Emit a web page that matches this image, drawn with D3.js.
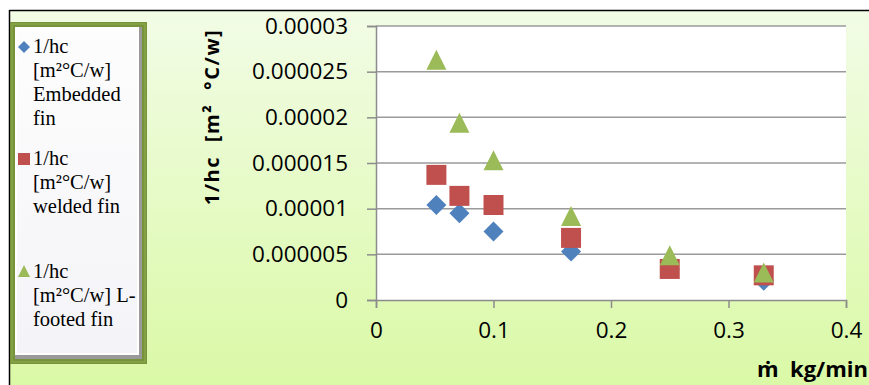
<!DOCTYPE html>
<html>
<head>
<meta charset="utf-8">
<script src="https://cdn.jsdelivr.net/npm/d3@7"></script>
<style>
  html, body { margin: 0; padding: 0; background: #ffffff; }
  svg { display: block; }
</style>
</head>
<body>
<svg id="chart" width="869" height="385"></svg>
<script>
// Mass flow rate (kg/min)
const flowRates = [0.0514, 0.0710, 0.1000, 0.1660, 0.2500, 0.3300];
// 1/hc [m²°C/W] for each fin type
const embeddedFin = [10.4e-6, 9.5e-6, 7.5e-6, 5.3e-6, 3.4e-6, 2.1e-6];
const weldedFin   = [13.7e-6, 11.4e-6, 10.4e-6, 6.8e-6, 3.4e-6, 2.7e-6];
const lFootedFin  = [26.3e-6, 19.4e-6, 15.3e-6, 9.2e-6, 4.9e-6, 3.0e-6];

const xTicks = [0, 0.1, 0.2, 0.3, 0.4];
const yTicks = [0, 0.000005, 0.00001, 0.000015, 0.00002, 0.000025, 0.00003];
const yTickLabels = ["0", "0.000005", "0.00001", "0.000015", "0.00002", "0.000025", "0.00003"];

const seriesNames = [
  ["1/hc", "[m²°C/w]", "Embedded", "fin"],
  ["1/hc", "[m²°C/w]", "welded fin"],
  ["1/hc", "[m²°C/w] L-", "footed fin"]
];

const svg = d3.select("#chart");
const defs = svg.append("defs");

// Chart-area background: pale lime gradient
const bg = defs.append("linearGradient").attr("id", "bgGrad")
  .attr("x1", 0).attr("y1", 0).attr("x2", 0).attr("y2", 1);
bg.append("stop").attr("offset", "0%").attr("stop-color", "#f2fce6");
bg.append("stop").attr("offset", "100%").attr("stop-color", "#daf9a6");

// Legend inner panel gradient
const lg = defs.append("linearGradient").attr("id", "legGrad")
  .attr("x1", 0).attr("y1", 0).attr("x2", 0).attr("y2", 1);
lg.append("stop").attr("offset", "0%").attr("stop-color", "#fdfdfd");
lg.append("stop").attr("offset", "100%").attr("stop-color", "#f4f4f8");

svg.append("rect").attr("x", 10).attr("y", 11).attr("width", 859).attr("height", 374)
  .attr("fill", "url(#bgGrad)");
svg.append("line").attr("x1", 9.5).attr("x2", 869).attr("y1", 10.5).attr("y2", 10.5)
  .attr("stroke", "#000").attr("stroke-width", 1.5);
svg.append("line").attr("x1", 9.5).attr("x2", 9.5).attr("y1", 10).attr("y2", 385)
  .attr("stroke", "#000").attr("stroke-width", 1.5);

// Plot area
const plot = { left: 376, right: 846, top: 26, bottom: 300 };
const x = d3.scaleLinear().domain([0, 0.4]).range([plot.left, plot.right]);
const y = d3.scaleLinear().domain([0, 0.00003]).range([plot.bottom, plot.top]);

svg.append("rect").attr("x", plot.left).attr("y", plot.top)
  .attr("width", plot.right - plot.left).attr("height", plot.bottom - plot.top)
  .attr("fill", "#ffffff");

// Horizontal gridlines
svg.append("g").selectAll("line").data(yTicks.slice(1)).join("line")
  .attr("x1", plot.left).attr("x2", plot.right)
  .attr("y1", d => y(d)).attr("y2", d => y(d))
  .attr("stroke", "#9a9a9a").attr("stroke-width", 1.5);

const tickFont = "'Open Sans', sans-serif";

// Y axis
const yAxis = svg.append("g").attr("transform", `translate(${plot.left},0)`)
  .call(d3.axisLeft(y).tickValues(yTicks).tickSize(9).tickPadding(19)
    .tickFormat((d, i) => yTickLabels[i]));
yAxis.select(".domain").attr("stroke", "#8c8c8c").attr("stroke-width", 1.5);
yAxis.selectAll(".tick line").attr("stroke", "#8c8c8c").attr("stroke-width", 1.5);
yAxis.selectAll(".tick text").attr("font-family", tickFont).attr("font-size", 22.5)
  .attr("fill", "#000");

// X axis
const xAxis = svg.append("g").attr("transform", `translate(0,${plot.bottom})`)
  .call(d3.axisBottom(x).tickValues(xTicks).tickSize(8).tickPadding(14)
    .tickFormat(d3.format("")));
xAxis.select(".domain").attr("stroke", "#8c8c8c").attr("stroke-width", 1.5);
xAxis.selectAll(".tick line").attr("stroke", "#8c8c8c").attr("stroke-width", 1.5);
xAxis.selectAll(".tick text").attr("font-family", tickFont).attr("font-size", 22.5)
  .attr("fill", "#000");

// Axis titles
svg.append("text")
  .attr("transform", `translate(219,117) rotate(-90)`)
  .attr("text-anchor", "middle")
  .attr("font-family", tickFont).attr("font-weight", "bold").attr("font-size", 20)
  .attr("letter-spacing", 1.6)
  .attr("fill", "#000").style("white-space", "pre")
  .text("1/hc  [m²  °C/w]");
svg.append("text")
  .attr("x", 757).attr("y", 377)
  .attr("font-family", tickFont).attr("font-weight", "bold").attr("font-size", 22)
  .attr("fill", "#000").style("white-space", "pre")
  .text("ṁ  kg/min");

// Markers
const series = [
  { values: embeddedFin, color: "#4f81bd", shape: "diamond" },
  { values: weldedFin, color: "#c0504d", shape: "square" },
  { values: lFootedFin, color: "#9bbb59", shape: "triangle" }
];

function markerPath(shape, s) {
  if (shape === "diamond") return `M0,${-s}L${s},0L0,${s}L${-s},0Z`;
  if (shape === "square") return `M${-s},${-s}H${s}V${s}H${-s}Z`;
  return `M0,${-s}L${s},${s}L${-s},${s}Z`;
}

series.forEach(sr => {
  svg.append("g").selectAll("path").data(sr.values).join("path")
    .attr("transform", (d, i) => `translate(${x(flowRates[i])},${y(d)})`)
    .attr("d", markerPath(sr.shape, 10))
    .attr("fill", sr.color);
});

// Legend
const leg = svg.append("g");
leg.append("rect").attr("x", 10).attr("y", 22).attr("width", 137).attr("height", 342)
  .attr("fill", "#77933c");
leg.append("rect").attr("x", 12).attr("y", 24).attr("width", 133).attr("height", 338)
  .attr("fill", "none").attr("stroke", "#8fae4f").attr("stroke-width", 1);
leg.append("rect").attr("x", 15).attr("y", 27).attr("width", 127).attr("height", 332)
  .attr("fill", "#9a9a9a");
leg.append("rect").attr("x", 15).attr("y", 27).attr("width", 124).attr("height", 328)
  .attr("fill", "#ffffff");
leg.append("rect").attr("x", 17).attr("y", 29).attr("width", 120).attr("height", 324)
  .attr("fill", "url(#legGrad)");

const legendRows = [
  { y: 53, markerY: 47 },
  { y: 165, markerY: 159 },
  { y: 278, markerY: 271 }
];

series.forEach((sr, k) => {
  const r = legendRows[k];
  leg.append("path")
    .attr("transform", `translate(24,${r.markerY})`)
    .attr("d", markerPath(sr.shape, 6))
    .attr("fill", sr.color);
  const t = leg.append("text")
    .attr("font-family", "'Liberation Serif', 'Times New Roman', serif")
    .attr("font-size", 20.5).attr("fill", "#000");
  seriesNames[k].forEach((line, j) => {
    t.append("tspan").attr("x", 33).attr("y", r.y + j * 24).text(line);
  });
});
</script>
</body>
</html>
